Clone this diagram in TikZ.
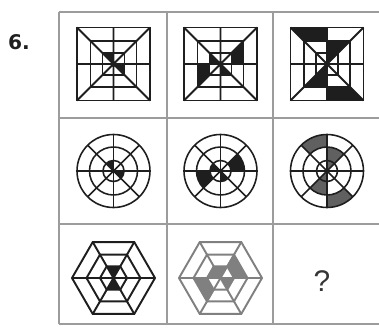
\documentclass[tikz,border=0pt]{standalone}
\usepackage{fontspec}
\setsansfont{Liberation Sans}
\newfontfamily\heavyfont{DejaVu Sans}
\usepackage{xcolor}
\usepackage{tikz}
\definecolor{INK}{HTML}{1E1E1E}
\definecolor{RULE}{HTML}{9C9C9C}
\definecolor{GREY}{HTML}{606060}
\definecolor{PALE}{HTML}{808080}

% square web piece: [colour] inner half, outer half, sector (0 = east, counter-clockwise)
\newcommand{\sqpiece}[4][INK]{%
  \pgfmathsetmacro{\fa}{mod(#4,2)==0 ? 1 : 1.41421}%
  \pgfmathsetmacro{\fb}{mod(#4,2)==0 ? 1.41421 : 1}%
  \fill[#1] (45*#4:#2*\fa) -- (45*#4:#3*\fa) -- (45*#4+45:#3*\fb) -- (45*#4+45:#2*\fb) -- cycle;}
% circle web piece
\newcommand{\ringpiece}[4][INK]{%
  \fill[#1] (45*#4:#3) arc[start angle=45*#4, end angle=45*#4+45, radius=#3]
    -- (45*#4+45:#2) arc[start angle=45*#4+45, end angle=45*#4, radius=#2] -- cycle;}
% hexagon web piece
\newcommand{\hexpiece}[4][INK]{%
  \fill[#1] (60*#4:#2) -- (60*#4:#3) -- (60*#4+60:#3) -- (60*#4+60:#2) -- cycle;}

\begin{document}
\begin{tikzpicture}[
  x=0.02cm, y=0.02cm,
  rule/.style={draw=RULE, line width=0.8pt},
  web/.style={draw=INK, line width=1.1pt, line join=miter},
  thin web/.style={web, line width=0.9pt},
  num/.style={font=\heavyfont\bfseries\fontsize{11.5}{11.5}\selectfont, text=INK},
  ask/.style={font=\sffamily\fontsize{17}{17}\selectfont, text=INK!90},
]
\useasboundingbox (0,0) rectangle (379,329);

% table
\draw[rule] (59,317) -- (379,317) (59,211) -- (379,211) (59,105) -- (379,105) (59,5) -- (379,5);
\foreach \x in {59,167,273} { \draw[rule] (\x,317) -- (\x,5); }

\node[num] (qnum) at (19,287) {6.};

% row 1: squares
\begin{scope}[shift={(113.5,265)}]
  \sqpiece{0}{11}{2} \sqpiece{0}{11}{7}
\end{scope}
\begin{scope}[shift={(220.5,265)}]
  \sqpiece{11}{23}{0} \sqpiece{11}{23}{4} \sqpiece{0}{11}{3} \sqpiece{0}{11}{6}
\end{scope}
\begin{scope}[shift={(327,265)}]
  \sqpiece{23}{36.5}{2} \sqpiece{23}{36.5}{6} \sqpiece{0}{23}{1} \sqpiece{0}{23}{5}
\end{scope}
\foreach \cx in {113.5,220.5,327} {
  \begin{scope}[shift={(\cx,265)}]
    \foreach \a in {11,23,36.5} { \draw[web] (-\a,-\a) rectangle (\a,\a); }
    \draw[web] (-36.5,-36.5) -- (36.5,36.5) (-36.5,36.5) -- (36.5,-36.5)
      (-36.5,0) -- (36.5,0) (0,-36.5) -- (0,36.5);
  \end{scope}
}

% row 2: circles
\begin{scope}[shift={(113.5,158)}]
  \ringpiece{0}{10.5}{2} \ringpiece{0}{10.5}{7}
\end{scope}
\begin{scope}[shift={(220.5,158)}]
  \ringpiece{10.5}{24}{0} \ringpiece{10.5}{24}{4} \ringpiece{0}{10.5}{3} \ringpiece{0}{10.5}{6}
\end{scope}
\begin{scope}[shift={(327,158)}]
  \ringpiece[GREY]{24}{36.5}{2} \ringpiece[GREY]{24}{36.5}{6}
  \ringpiece[GREY]{10.5}{24}{1} \ringpiece[GREY]{10.5}{24}{5}
  \ringpiece[GREY]{0}{10.5}{1} \ringpiece[GREY]{0}{10.5}{5}
\end{scope}
\foreach \cx in {113.5,220.5,327} {
  \begin{scope}[shift={(\cx,158)}]
    \foreach \r in {10.5,24,36.5} { \draw[thin web] (0,0) circle[radius=\r]; }
    \foreach \t in {0,45,90,135} { \draw[thin web] (\t:36.5) -- (\t+180:36.5); }
  \end{scope}
}

% row 3: hexagons
\begin{scope}[shift={(113.5,51)}]
  \hexpiece{0}{13.5}{1} \hexpiece{0}{13.5}{4}
  \foreach \r in {13.5,27,41.5} { \draw[web] (0:\r) -- (60:\r) -- (120:\r) -- (180:\r) -- (240:\r) -- (300:\r) -- cycle; }
  \foreach \t in {0,60,120} { \draw[web] (\t:41.5) -- (\t+180:41.5); }
\end{scope}
\begin{scope}[shift={(220.5,51)}]
  \hexpiece[PALE]{13.5}{27}{0} \hexpiece[PALE]{13.5}{27}{3}
  \hexpiece[PALE]{0}{13.5}{1} \hexpiece[PALE]{0}{13.5}{2} \hexpiece[PALE]{0}{13.5}{5}
  \foreach \r in {13.5,27,41.5} { \draw[web, draw=PALE] (0:\r) -- (60:\r) -- (120:\r) -- (180:\r) -- (240:\r) -- (300:\r) -- cycle; }
  \foreach \t in {0,60,120} { \draw[web, draw=PALE] (\t:41.5) -- (\t+180:41.5); }
\end{scope}

\node[ask] (missing) at (322,48) {?};

\end{tikzpicture}
\end{document}
